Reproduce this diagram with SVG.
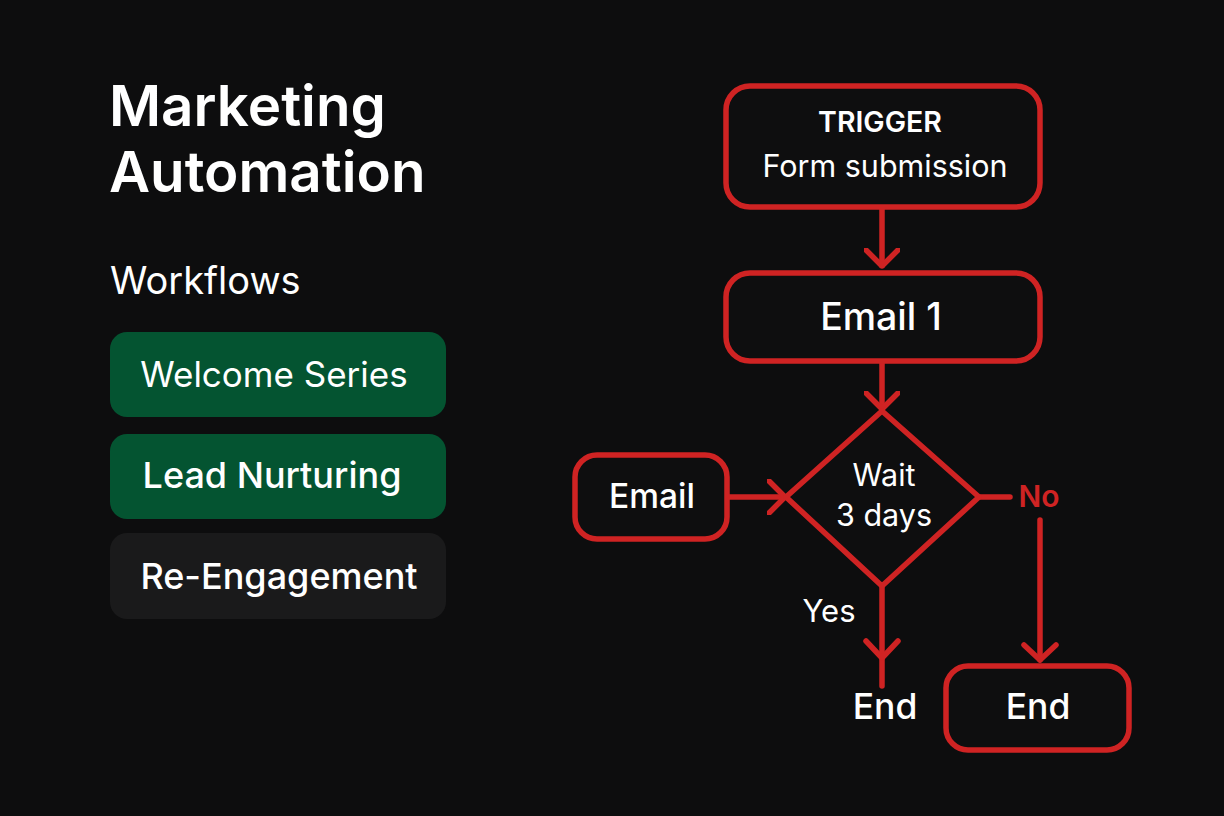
<svg xmlns="http://www.w3.org/2000/svg" width="1224" height="816" viewBox="0 0 1224 816">
<defs>
<marker id="arr" viewBox="0 0 20 36" refX="18" refY="18" markerWidth="20" markerHeight="36" markerUnits="userSpaceOnUse" orient="auto"><path d="M2 2 L18 18 L2 34" fill="none" stroke="#cf2323" stroke-width="5.5" stroke-linecap="round" stroke-linejoin="round"/></marker>
</defs>
<style>
text{font-family:Inter,"Liberation Sans",sans-serif;fill:#fff;text-anchor:middle}
.n{fill:#0e0e0f;stroke:#cf2323;stroke-width:5.5}
.c{fill:none;stroke:#cf2323;stroke-width:5.5;stroke-linecap:round;stroke-linejoin:round}
.b{font-weight:600}
.m{font-weight:500}
.l{text-anchor:start}
</style>
<rect width="1224" height="816" fill="#0d0d0e"/>
<g id="title"><text class="l b" x="109" y="126" font-size="56.5">Marketing</text><text class="l b" x="109" y="192" font-size="56.5">Automation</text></g>
<text id="workflows" class="l" x="110" y="294" font-size="38">Workflows</text>
<g id="welcome"><rect x="110" y="332" width="336" height="85" rx="17" fill="#045431"/><text x="274" y="387" font-size="35">Welcome Series</text></g>
<g id="lead"><rect x="110" y="434" width="336" height="85" rx="17" fill="#045431"/><text class="m" x="272" y="488" font-size="36">Lead Nurturing</text></g>
<g id="reengage"><rect x="110" y="533" width="336" height="86" rx="17" fill="#1a1a1b"/><text class="m" x="279" y="589" font-size="36">Re-Engagement</text></g>
<g id="connectors">
<path class="c" d="M882 208V266" marker-end="url(#arr)"/>
<path class="c" d="M882 362V409" marker-end="url(#arr)"/>
<path class="c" d="M728 497H785" marker-end="url(#arr)"/>
<path class="c" d="M980 497H1010"/>
<path class="c" d="M1040 520V660"/>
<path class="c" d="M1024 645L1040 660L1056 645"/>
<path class="c" d="M882 587V686"/>
<path class="c" d="M866 641L882 658L898 641"/>
</g>
<g id="trigger"><rect class="n" x="726" y="86" width="314" height="121" rx="24"/><text class="b" x="880" y="132" font-size="28.5">TRIGGER</text><text x="885" y="177" font-size="30.5">Form submission</text></g>
<g id="email1"><rect class="n" x="726" y="273" width="314" height="88" rx="24"/><text class="m" x="881" y="330" font-size="37.5">Email 1</text></g>
<g id="wait"><path class="n" stroke-linejoin="round" d="M882 411L979 497L882 586L786 497Z"/><text x="884" y="486" font-size="30.5">Wait</text><text x="884" y="526" font-size="30.5">3 days</text></g>
<g id="email"><rect class="n" x="575" y="455" width="152" height="84" rx="22"/><text class="m" x="652" y="508" font-size="33.5">Email</text></g>
<text id="no" class="b" x="1039" y="507" font-size="30" style="fill:#cf2323">No</text>
<text id="yes" x="829" y="622" font-size="31">Yes</text>
<text id="end1" class="m" x="885" y="719" font-size="35.5">End</text>
<g id="end2"><rect class="n" x="946" y="666" width="183" height="84" rx="22"/><text class="m" x="1038" y="719" font-size="35.5">End</text></g>
</svg>
